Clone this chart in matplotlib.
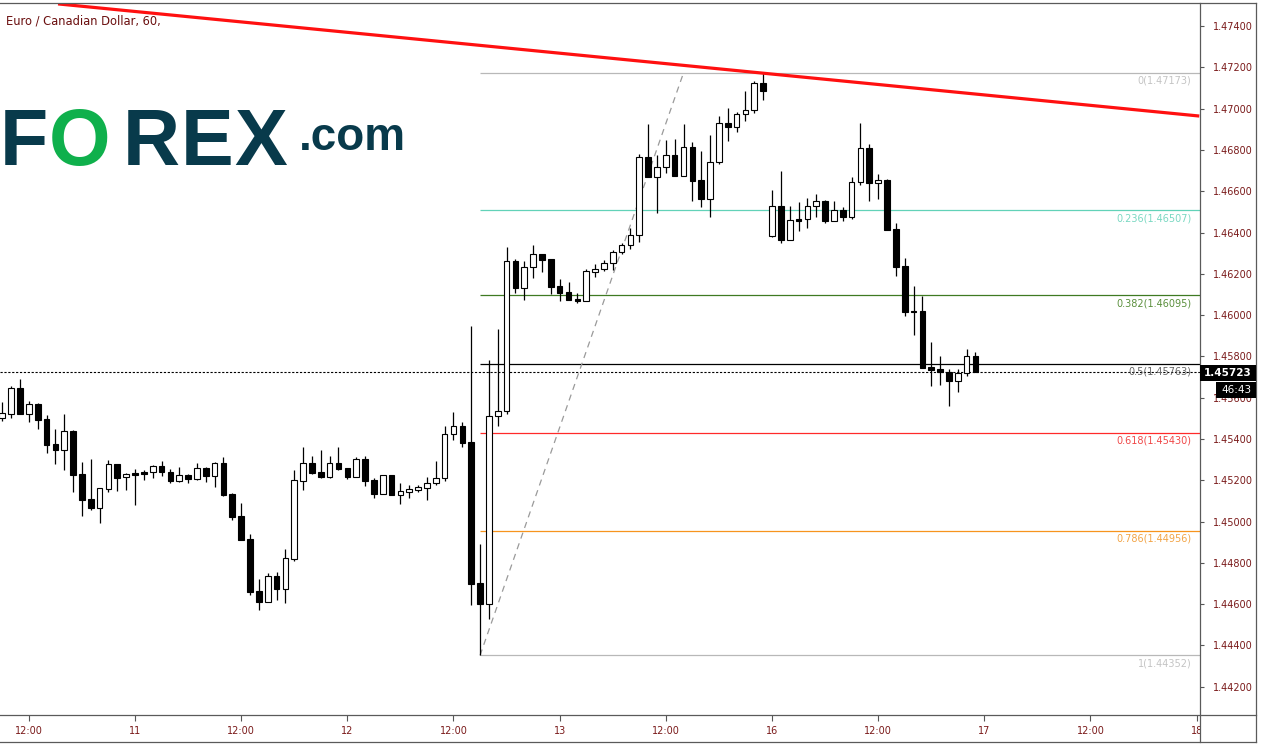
import matplotlib
matplotlib.use("Agg")
import matplotlib.pyplot as plt
from matplotlib.lines import Line2D
from matplotlib.patches import Rectangle
from matplotlib.transforms import Bbox, TransformedBbox
import numpy as np

# EUR/CAD hourly candles, 10 Sep 09:00 .. 17 Sep 03:00 (weekend gap removed)
opens = [
    1.45503, 1.45523, 1.45646, 1.45523, 1.45570, 1.45497, 1.45376, 1.45348, 1.45439, 1.45230,
    1.45109, 1.45067, 1.45159, 1.45279, 1.45215, 1.45235, 1.45240, 1.45239, 1.45269, 1.45240,
    1.45198, 1.45224, 1.45208, 1.45258, 1.45222, 1.45282, 1.45134, 1.45027, 1.44916, 1.44664,
    1.44612, 1.44737, 1.44675, 1.44820, 1.45198, 1.45282, 1.45239, 1.45215, 1.45282, 1.45258,
    1.45217, 1.45302, 1.45200, 1.45135, 1.45224, 1.45130, 1.45145, 1.45155, 1.45164, 1.45186,
    1.45210, 1.45423, 1.45461, 1.45384, 1.44701, 1.44602, 1.45510, 1.45534, 1.46261, 1.46133,
    1.46231, 1.46294, 1.46270, 1.46140, 1.46110, 1.46078, 1.46070, 1.46210, 1.46222, 1.46251,
    1.46306, 1.46338, 1.46386, 1.46764, 1.46670, 1.46716, 1.46774, 1.46675, 1.46813, 1.46653,
    1.46564, 1.46740, 1.46929, 1.46909, 1.46972, 1.46992, 1.47124, 1.46385, 1.46527, 1.46365,
    1.46465, 1.46464, 1.46527, 1.46551, 1.46457, 1.46508, 1.46477, 1.46643, 1.46808, 1.46638,
    1.46653, 1.46416, 1.46238, 1.46020, 1.46020, 1.45747, 1.45738, 1.45726, 1.45682, 1.45718,
    1.45800,
]
highs = [
    1.45578, 1.45657, 1.45691, 1.45583, 1.45574, 1.45516, 1.45448, 1.45521, 1.45444, 1.45289,
    1.45303, 1.45165, 1.45298, 1.45281, 1.45235, 1.45255, 1.45250, 1.45274, 1.45294, 1.45255,
    1.45264, 1.45230, 1.45284, 1.45264, 1.45289, 1.45313, 1.45139, 1.45090, 1.44940, 1.44722,
    1.44750, 1.44756, 1.44867, 1.45250, 1.45361, 1.45318, 1.45347, 1.45318, 1.45361, 1.45260,
    1.45313, 1.45318, 1.45210, 1.45226, 1.45226, 1.45187, 1.45176, 1.45176, 1.45216, 1.45294,
    1.45463, 1.45531, 1.45482, 1.45947, 1.44892, 1.45781, 1.45933, 1.46330, 1.46270, 1.46261,
    1.46338, 1.46296, 1.46272, 1.46173, 1.46159, 1.46107, 1.46222, 1.46246, 1.46267, 1.46315,
    1.46348, 1.46420, 1.46780, 1.46925, 1.46775, 1.46848, 1.46851, 1.46925, 1.46838, 1.46795,
    1.46872, 1.46966, 1.47002, 1.46985, 1.47085, 1.47132, 1.47173, 1.46606, 1.46698, 1.46527,
    1.46548, 1.46567, 1.46586, 1.46557, 1.46553, 1.46522, 1.46667, 1.46930, 1.46827, 1.46683,
    1.46658, 1.46445, 1.46275, 1.46141, 1.46092, 1.45870, 1.45802, 1.45738, 1.45738, 1.45836,
    1.45820,
]
lows = [
    1.45489, 1.45503, 1.45520, 1.45484, 1.45448, 1.45334, 1.45280, 1.45251, 1.45145, 1.45029,
    1.45058, 1.44995, 1.45145, 1.45150, 1.45155, 1.45082, 1.45203, 1.45213, 1.45222, 1.45188,
    1.45193, 1.45188, 1.45203, 1.45193, 1.45169, 1.45125, 1.45009, 1.44910, 1.44646, 1.44572,
    1.44610, 1.44620, 1.44607, 1.44811, 1.45153, 1.45230, 1.45213, 1.45213, 1.45250, 1.45206,
    1.45215, 1.45174, 1.45116, 1.45133, 1.45128, 1.45087, 1.45116, 1.45145, 1.45106, 1.45176,
    1.45195, 1.45394, 1.45363, 1.44595, 1.44352, 1.44527, 1.45464, 1.45523, 1.46107, 1.46075,
    1.46181, 1.46210, 1.46102, 1.46070, 1.46073, 1.46060, 1.46068, 1.46186, 1.46215, 1.46218,
    1.46297, 1.46320, 1.46354, 1.46668, 1.46496, 1.46690, 1.46673, 1.46673, 1.46554, 1.46525,
    1.46477, 1.46733, 1.46845, 1.46888, 1.46941, 1.46980, 1.47042, 1.46380, 1.46351, 1.46363,
    1.46409, 1.46423, 1.46474, 1.46447, 1.46455, 1.46457, 1.46467, 1.46632, 1.46554, 1.46564,
    1.46412, 1.46191, 1.45997, 1.45905, 1.45743, 1.45658, 1.45663, 1.45561, 1.45629, 1.45705,
    1.45723,
]
closes = [
    1.45525, 1.45646, 1.45523, 1.45570, 1.45494, 1.45372, 1.45348, 1.45439, 1.45227, 1.45106,
    1.45067, 1.45163, 1.45279, 1.45213, 1.45230, 1.45227, 1.45232, 1.45269, 1.45239, 1.45198,
    1.45224, 1.45208, 1.45258, 1.45222, 1.45282, 1.45130, 1.45024, 1.44912, 1.44661, 1.44612,
    1.44737, 1.44675, 1.44824, 1.45200, 1.45282, 1.45237, 1.45215, 1.45282, 1.45256, 1.45217,
    1.45302, 1.45198, 1.45135, 1.45224, 1.45130, 1.45147, 1.45156, 1.45166, 1.45186, 1.45210,
    1.45423, 1.45461, 1.45382, 1.44699, 1.44602, 1.45510, 1.45534, 1.46261, 1.46133, 1.46231,
    1.46294, 1.46268, 1.46138, 1.46109, 1.46075, 1.46070, 1.46212, 1.46223, 1.46254, 1.46307,
    1.46338, 1.46386, 1.46764, 1.46670, 1.46716, 1.46774, 1.46675, 1.46813, 1.46651, 1.46564,
    1.46740, 1.46929, 1.46909, 1.46972, 1.46992, 1.47124, 1.47087, 1.46527, 1.46365, 1.46459,
    1.46457, 1.46527, 1.46551, 1.46457, 1.46508, 1.46477, 1.46643, 1.46808, 1.46638, 1.46653,
    1.46414, 1.46234, 1.46014, 1.46014, 1.45745, 1.45736, 1.45724, 1.45682, 1.45718, 1.45800,
    1.45723,
]

time_tick_pos = [3, 15, 27, 39, 51, 63, 75, 87, 99, 111, 123, 135]
time_tick_labels = ["12:00", "11", "12:00", "12", "12:00", "13",
                    "12:00", "16", "12:00", "17", "12:00", "18"]
price_ticks = [1.442, 1.444, 1.446, 1.448, 1.450, 1.452, 1.454, 1.456,
               1.458, 1.460, 1.462, 1.464, 1.466, 1.468, 1.470, 1.472, 1.474]

fib_levels = ["0", "0.236", "0.382", "0.5", "0.618", "0.786", "1"]
fib_prices = [1.47173, 1.46507, 1.46095, 1.45763, 1.45430, 1.44956, 1.44352]
fib_line_colors = ["#b8b8b8", "#62d2b8", "#3f7a22", "#000000", "#ff2a2a", "#f7941d", "#b8b8b8"]
fib_text_colors = ["#c4c4c4", "#7ad8c2", "#5a8f3c", "#666666", "#f04848", "#f2a446", "#c4c4c4"]
fib_start_idx = 54
fib_diag_x = [54, 77]
fib_diag_y = [1.44352, 1.47173]

trend_x = [6.3, 135.3]
trend_y = [1.47507, 1.46964]

last_price = 1.45723
countdown = "46:43"

W, H = 1263, 750
fig = plt.figure(figsize=(W / 100, H / 100), dpi=100)


def fx(x):
    return x / W


def fy(y):
    return 1 - y / H


ax = fig.add_axes([0, fy(715), fx(1200), (715 - 3) / H])
ax.set_xlim(-0.26, 135.38)
ax.set_ylim(1.440634, 1.475114)

o = np.array(opens)
h = np.array(highs)
l = np.array(lows)
c = np.array(closes)
idx = np.arange(len(o))
up = c >= o
body_h = np.maximum(np.abs(c - o), 0.00003)
body_b = np.minimum(o, c)

ax.vlines(idx, l, h, color="black", lw=0.9, zorder=3)
ax.bar(idx[up], body_h[up], bottom=body_b[up], width=0.64,
       facecolor="white", edgecolor="black", lw=0.8, zorder=4)
ax.bar(idx[~up], body_h[~up], bottom=body_b[~up], width=0.64,
       facecolor="black", edgecolor="black", lw=0.8, zorder=4)

# fibonacci retracement
for lev, p, lc, tc in zip(fib_levels, fib_prices, fib_line_colors, fib_text_colors):
    ax.hlines(p, fib_start_idx, 135.38, color=lc, lw=0.9, zorder=2)
    ax.annotate(f"{lev}({p:.5f})", xy=(134.4, p), xytext=(0, -2),
                textcoords="offset points", ha="right", va="top",
                fontsize=7, color=tc, zorder=5)
ax.plot(fib_diag_x, fib_diag_y, color="#9a9a9a", lw=0.9, ls=(0, (5, 4)), zorder=2)

# current price
ax.axhline(last_price, color="black", lw=0.8, ls=(0, (2, 1.5)), zorder=2)

# trendline
ax.plot(trend_x, trend_y, color="#ff1010", lw=2.3, solid_capstyle="butt", zorder=6)

for s in ax.spines.values():
    s.set_visible(False)

ax.yaxis.tick_right()
ax.set_yticks(price_ticks)
ax.set_yticklabels([f"{v:.5f}" for v in price_ticks])
ax.tick_params(axis="y", length=3, width=0.8, color="#555555", pad=6,
               labelsize=7, labelcolor="#7a1a1a")
ax.set_xticks(time_tick_pos)
ax.set_xticklabels(time_tick_labels)
ax.tick_params(axis="x", length=4, width=0.8, color="#555555", pad=4,
               labelsize=7, labelcolor="#7a1a1a")
clip = TransformedBbox(Bbox([[0, 0], [fx(1200), 1]]), fig.transFigure)
for lab in ax.get_xticklabels():
    lab.set_clip_box(clip)
    lab.set_clip_on(True)

# frame and axis separators
frame_col = "#5a5a5a"
for (x0, y0, x1, y1) in [(0, 3, 1256, 3), (1256, 3, 1256, 742), (0, 742, 1256, 742),
                         (1200, 3, 1200, 742), (0, 715, 1256, 715)]:
    fig.add_artist(Line2D([fx(x0), fx(x1)], [fy(y0), fy(y1)], transform=fig.transFigure,
                          color=frame_col, lw=0.9))

# last price + countdown boxes
fig.add_artist(Rectangle((fx(1200), fy(381)), fx(56), 16 / H, transform=fig.transFigure,
                         facecolor="black", edgecolor="none", zorder=5))
fig.text(fx(1228), fy(373), f"{last_price:.5f}", color="white", fontsize=7.5,
         fontweight="bold", ha="center", va="center", zorder=6)
fig.add_artist(Rectangle((fx(1216), fy(398)), fx(40), 16 / H, transform=fig.transFigure,
                         facecolor="black", edgecolor="none", zorder=5))
fig.text(fx(1236), fy(390), countdown, color="white", fontsize=7.5,
         ha="center", va="center", zorder=6)

# title
fig.text(fx(6), fy(24), "Euro / Canadian Dollar, 60, ", fontsize=8.3,
         color="#6b0f0f", va="baseline", ha="left")

# FOREX.com logo
teal = "#083a4b"
green = "#0fb04c"
for ch, xpos, col in [("F", 0, teal), ("O", 49, green), ("R", 123, teal),
                      ("E", 181, teal), ("X", 234, teal)]:
    fig.text(fx(xpos), fy(165), ch, fontsize=57, fontweight="bold", color=col,
             family="Liberation Sans", va="baseline", ha="left")
fig.text(fx(299), fy(150), ".com", fontsize=33, fontweight="bold", color=teal,
         family="Liberation Sans", va="baseline", ha="left")

fig.savefig("out.png", dpi=100)
